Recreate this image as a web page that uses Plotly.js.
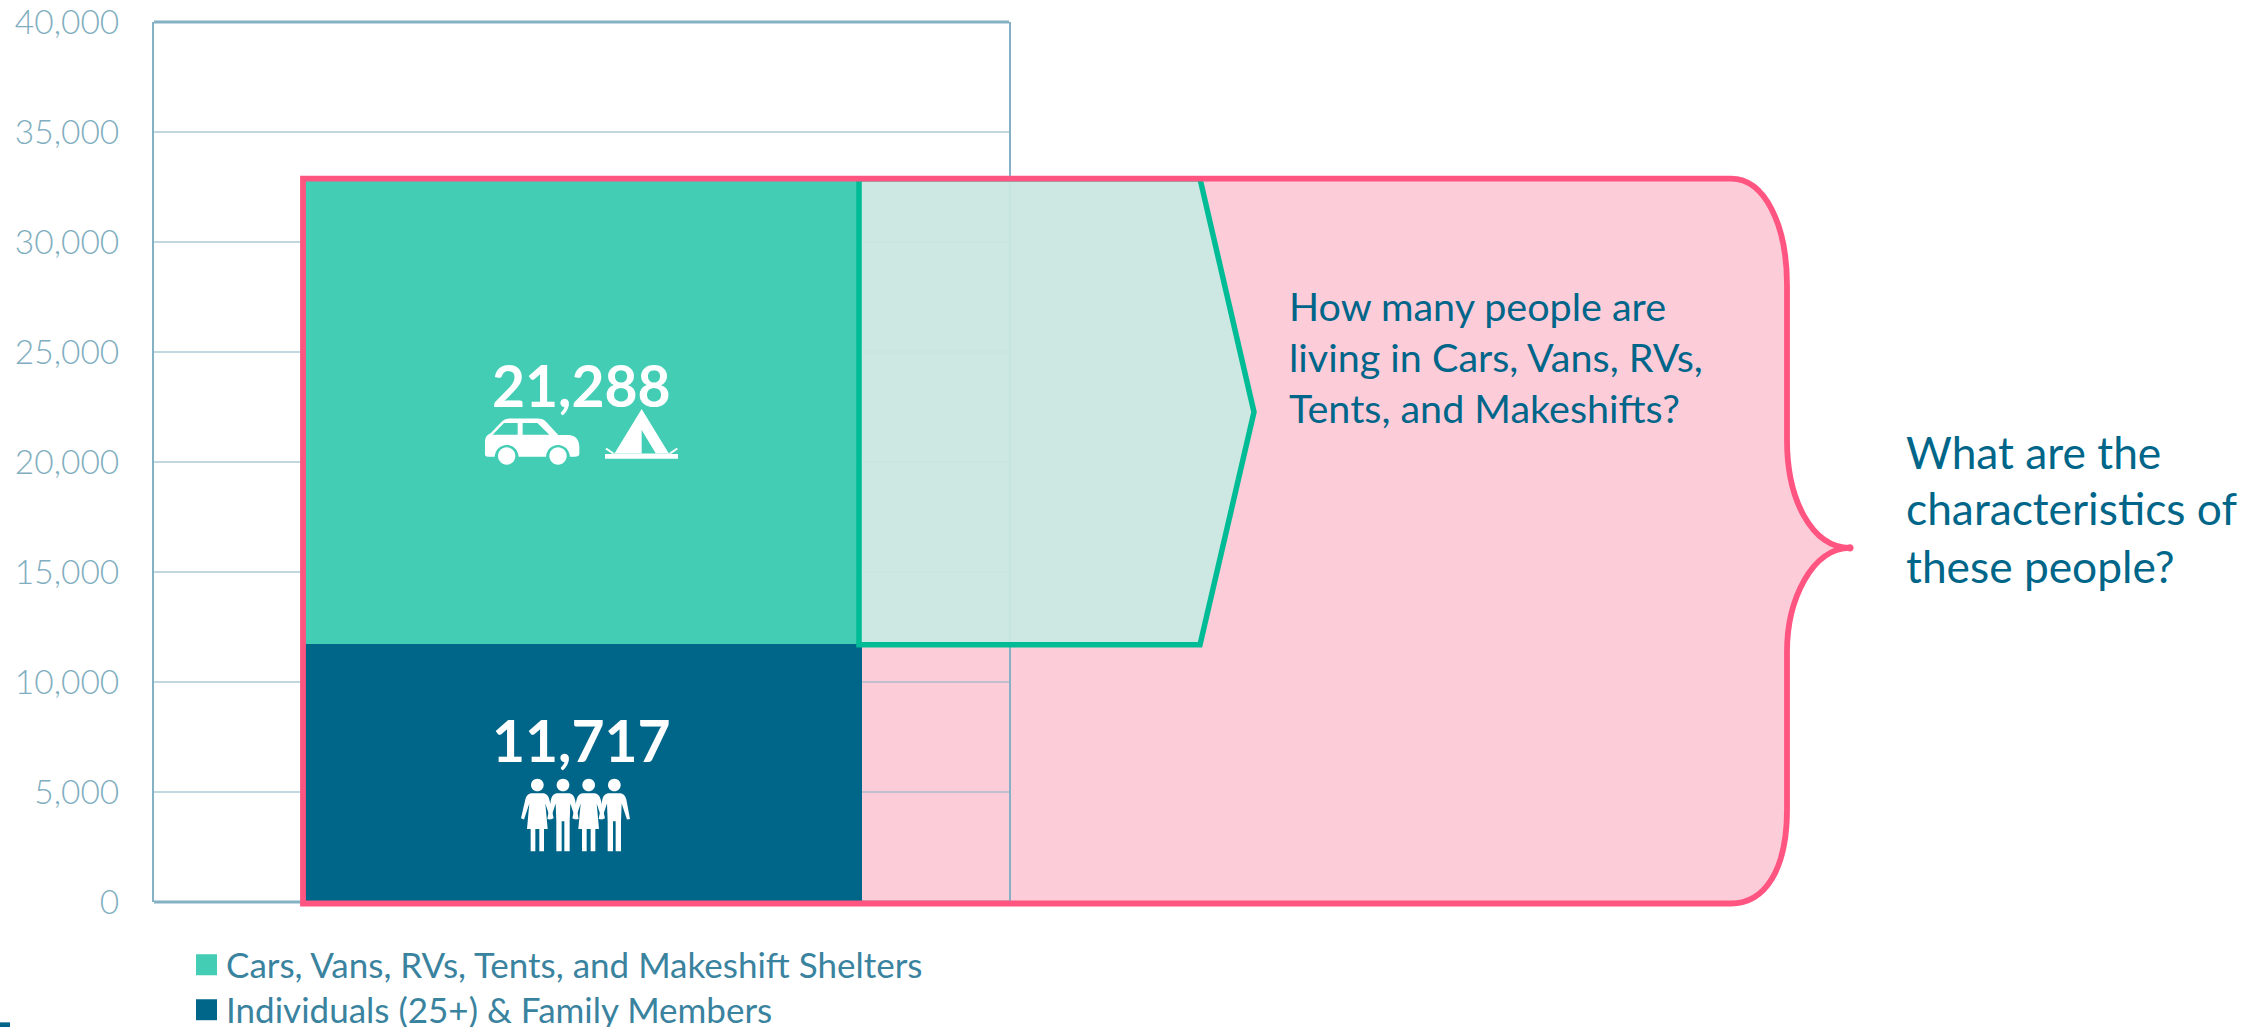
<!DOCTYPE html>
<html>
<head>
<meta charset="utf-8">
<script src="https://cdn.plot.ly/plotly-3.0.1.min.js"></script>
<style>html,body{margin:0;padding:0;background:#fff;overflow:hidden;width:2264px;height:1027px}</style>
</head>
<body>
<div id="chart"></div>
<script>
// ---- data ----
const categories = ['Population'];
const seriesNames = ['Individuals (25+) & Family Members', 'Cars, Vans, RVs, Tents, and Makeshift Shelters'];
const individualsValues = [11717];
const vehicleValues = [21288];
const tickValues = [0, 5000, 10000, 15000, 20000, 25000, 30000, 35000, 40000];
const tickLabels = ['0', '5,000', '10,000', '15,000', '20,000', '25,000', '30,000', '35,000', '40,000'];
const innerQuestion = ['How many people are', 'living in Cars, Vans, RVs,', 'Tents, and Makeshifts?'];
const outerQuestion = ['What are the', 'characteristics of', 'these people?'];

// ---- palette ----
const TEAL = '#42CDB4', BLUE = '#006689', PINK = '#FF5580', PINKFILL = '#FDCCD9', GREEN = '#00BC96';
const AXIS = '#84B2C4', TICKTXT = '#7FAEC0', LEGTXT = '#3A839F';
const FONT = 'Lato, Carlito, "Open Sans", sans-serif';

// ---- frame of the plot, in page pixels ----
const L = 154, R = 1009, T = 21.5, B = 902.5, PAGEH = 1060;
const fx = x => (x - L) / (R - L);
const fy = y => (B - y) / (B - T);
const conv = (s, ox = 0, oy = 0, k = 1) =>
  s.replace(/(-?[\d.]+),(-?[\d.]+)/g, (m, a, b) => fx(ox + a * k).toFixed(6) + ' ' + fy(oy + b * k).toFixed(6));

const fillShape = (d, color, layer = 'above') => ({type: 'path', xref: 'paper', yref: 'paper', path: d, fillcolor: color, line: {width: 0}, layer});
const circle = (cx, cy, r) => {
  const c = 0.5523 * r;
  return `M${cx - r},${cy} C${cx - r},${cy - c} ${cx - c},${cy - r} ${cx},${cy - r} C${cx + c},${cy - r} ${cx + r},${cy - c} ${cx + r},${cy} C${cx + r},${cy + c} ${cx + c},${cy + r} ${cx},${cy + r} C${cx - c},${cy + r} ${cx - r},${cy + c} ${cx - r},${cy} Z`;
};

// ---- annotation outlines ----
const bracePath = 'M303,178.4 L1731,178.4 C1765,178.4 1787,225 1787,285 L1787,440 C1787,500 1812,548 1850,548 C1812,548 1787,600 1787,652 L1787,810 C1787,870 1765,904 1731,904 L303,904 Z';
const arrowPath = 'M859,178.4 L1200,178.4 L1254,412 L1200,645 L859,645 Z';

// ---- icons (drawn in crop units of 1/3 px) ----
const carOX = 460, carOY = 340, K = 1 / 3;
const icon = (d) => fillShape(conv(d, carOX, carOY, K), '#ffffff');
const carBody = 'M75,343 L75,305 C76,290 82,284 92,280 L125,245 C133,237 140,235 152,235 L232,235 C245,235 252,238 260,247 L295,285 L328,285 C348,287 358,300 358,322 L358,342 C358,348 352,350 345,350 L330,350 C328,330 314,315 294,315 C274,315 260,330 258,350 L176,350 C174,330 160,315 140,315 C120,315 106,330 104,350 L84,350 C78,350 75,348 75,343 Z ' +
  'M98,284 L132,249 L173,249 L173,284 Z M188,249 L232,249 L268,284 L188,284 Z';
const tentBody = 'M545,207 L627,341 L463,341 Z M545,270 L545,340 L587,340 Z';
const tentBase = 'M435,342 L654,342 L654,356 L435,356 Z';
const tentStakeL = 'M440,323 L466,341 L456,341 L436,328 Z';
const tentStakeR = 'M650,323 L624,341 L634,341 L654,328 Z';

const pplOX = 490, pplOY = 700;
const person = (d) => fillShape(conv(d, pplOX, pplOY, K), '#ffffff');
const woman = c => `M${c - 18},281 L${c + 18},281 C${c + 28},283 ${c + 33},288 ${c + 36},300 L${c + 49},356 L${c + 40},360 L${c + 24},312 L${c + 31},388 L${c + 20},388 L${c + 20},455 L${c + 6},455 L${c + 6},388 L${c - 6},388 L${c - 6},455 L${c - 20},455 L${c - 20},388 L${c - 31},388 L${c - 24},312 L${c - 40},360 L${c - 49},356 L${c - 36},300 C${c - 33},288 ${c - 28},283 ${c - 18},281 Z`;
const man = c => `M${c - 18},281 L${c + 18},281 C${c + 28},283 ${c + 33},288 ${c + 36},300 L${c + 47},358 L${c + 38},360 L${c + 22},312 L${c + 20},365 L${c + 20},455 L${c + 4},455 L${c + 4},365 L${c - 4},365 L${c - 4},455 L${c - 20},455 L${c - 20},365 L${c - 22},312 L${c - 38},360 L${c - 47},358 L${c - 36},300 C${c - 33},288 ${c - 28},283 ${c - 18},281 Z`;

const frameLine = (yy) => ({type: 'line', xref: 'paper', yref: 'paper', x0: 0, x1: 1, y0: yy, y1: yy, line: {color: AXIS, width: 3}, layer: 'below'});

const shapes = [
  fillShape(conv(bracePath), PINKFILL, 'below'),
  frameLine(0), frameLine(1),
  {type: 'path', xref: 'paper', yref: 'paper', path: conv(arrowPath), fillcolor: 'rgba(201,232,226,0.93)', line: {color: GREEN, width: 5.5}, layer: 'above'},
  {type: 'path', xref: 'paper', yref: 'paper', path: conv(bracePath), fillcolor: 'rgba(0,0,0,0)', line: {color: PINK, width: 5.8}, layer: 'above'},
  fillShape(conv(circle(1850, 548, 3.6)), PINK),
  icon(carBody), icon(circle(140, 348, 26)), icon(circle(294, 348, 26)),
  icon(tentBody), icon(tentBase), icon(tentStakeL), icon(tentStakeR),
  person(circle(142, 256, 19)), person(circle(219, 256, 19)), person(circle(296, 256, 19)), person(circle(373, 256, 19)),
  person(woman(142)), person(man(219)), person(woman(296)), person(man(373)),
  fillShape(conv('M0,1023 L10,1023 L10,1030 L0,1030 Z'), BLUE)
];

const fmt = v => v.toLocaleString('en-US');
const ann = (text, x, y, size, color, weight, anchor) => ({
  text, xref: 'paper', yref: 'paper', x: fx(x), y: fy(y), xanchor: anchor, yanchor: 'middle',
  showarrow: false, align: 'left', font: {family: FONT, size, color, weight}
});
const annotations = [
  ann(fmt(vehicleValues[0]), 581, 385, 57, '#ffffff', 700, 'center'),
  ann(fmt(individualsValues[0]), 581, 740, 57, '#ffffff', 700, 'center'),
  ...innerQuestion.map((t, i) => ann(t, 1287, [305, 356, 407][i], 39.5, BLUE, 400, 'left')),
  ...outerQuestion.map((t, i) => ann(t, 1904, [451, 508, 566][i], 44.3, BLUE, 400, 'left'))
];

const traces = [
  {type: 'bar', name: seriesNames[0], x: categories, y: individualsValues, marker: {color: BLUE}, width: 0.655, hoverinfo: 'skip'},
  {type: 'bar', name: seriesNames[1], x: categories, y: vehicleValues, marker: {color: TEAL}, width: 0.655, hoverinfo: 'skip'}
];

const layout = {
  width: 2264, height: PAGEH, autosize: false,
  margin: {l: L, r: 2264 - R, t: T, b: PAGEH - B, pad: 0},
  paper_bgcolor: '#ffffff', plot_bgcolor: '#ffffff',
  barmode: 'stack', showlegend: true,
  font: {family: FONT},
  legend: {
    x: fx(186), y: fy(936), xanchor: 'left', yanchor: 'top', bgcolor: 'rgba(0,0,0,0)',
    font: {family: FONT, size: 35, color: LEGTXT}, itemclick: false, itemdoubleclick: false
  },
  xaxis: {type: 'category', range: [-0.5, 0.5], showticklabels: false, ticks: '', showgrid: false, zeroline: false, showline: false},
  yaxis: {range: [0, 40000], tickmode: 'array', tickvals: tickValues, ticktext: tickLabels, ticks: '',
    ticklabelstandoff: 26, ticklabeloverflow: 'allow', tickfont: {family: FONT, size: 33.5, color: TICKTXT, weight: 300},
    showgrid: true, gridcolor: 'rgba(132,178,196,0.5)', gridwidth: 2, zeroline: false,
    showline: true, mirror: true, linecolor: AXIS, linewidth: 2},
  shapes, annotations
};

Plotly.newPlot('chart', traces, layout, {displayModeBar: false, staticPlot: true}).then(() => {
  const gap = 45;
  const items = document.querySelectorAll('.legend .traces');
  items.forEach((g, i) => {
    const m = /translate\(([-\d.]+),\s*([-\d.]+)\)/.exec(g.getAttribute('transform') || '');
    if (m && i > 0) {
      const first = /translate\(([-\d.]+),\s*([-\d.]+)\)/.exec(items[0].getAttribute('transform'));
      g.setAttribute('transform', `translate(${m[1]},${+first[2] + gap * i})`);
    }
  });
  document.querySelectorAll('.legend .legendpoints path').forEach(p => {
    p.setAttribute('d', 'M10.5,10.5H-10.5V-10.5H10.5Z');
    p.setAttribute('transform', 'translate(20.5,0)');
    p.style.strokeWidth = '0';
  });
});
</script>
</body>
</html>
